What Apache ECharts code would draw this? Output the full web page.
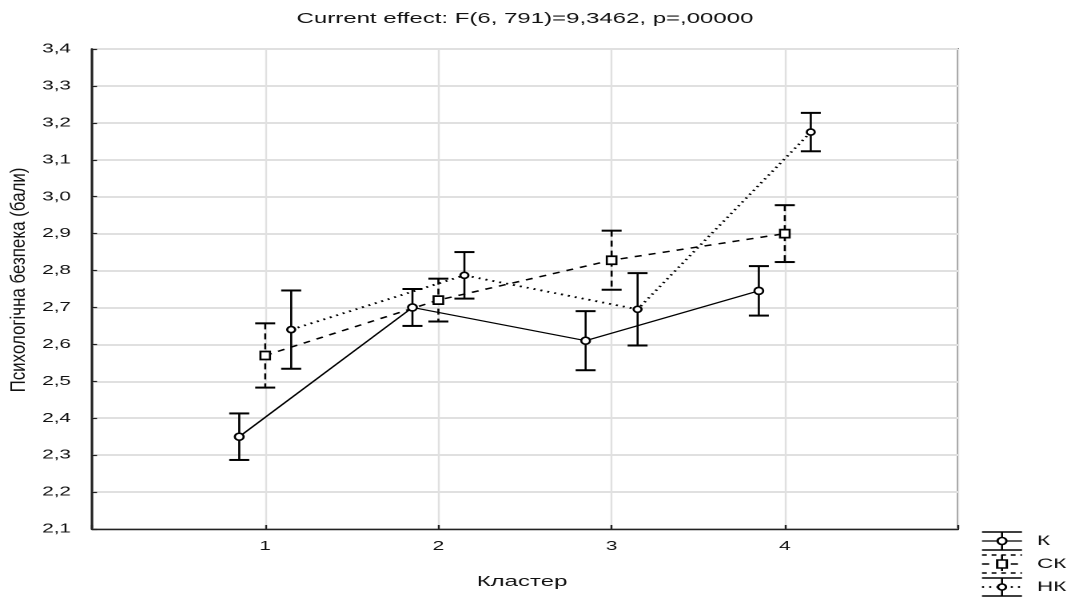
<!DOCTYPE html>
<html>
<head>
<meta charset="utf-8">
<title>Психологічна безпека за кластерами</title>
<script src="https://cdn.jsdelivr.net/npm/echarts/dist/echarts.min.js"></script>
<style>
  html, body { margin: 0; padding: 0; background: #fff; overflow: hidden; }
  #wrap { width: 1071px; height: 597px; overflow: hidden; }
  /* the plot is drawn narrow and widened horizontally, giving the wide-set lettering */
  #chart { width: 670px; height: 597px; transform: scaleX(1.5985); transform-origin: 0 0; }
</style>
</head>
<body>
<div id="wrap"><div id="chart"></div></div>
<script>
// Cluster numbers on the x axis
const clusters = [1, 2, 3, 4];

// Group means and half-widths of the confidence intervals
const kName = 'К';
const kMean = [2.350, 2.700, 2.610, 2.745];
const kErr  = [0.063, 0.050, 0.080, 0.067];

const ckName = 'СК';
const ckMean = [2.570, 2.720, 2.828, 2.900];
const ckErr  = [0.087, 0.058, 0.080, 0.077];

const nkName = 'НК';
const nkMean = [2.640, 2.787, 2.695, 3.175];
const nkErr  = [0.106, 0.063, 0.098, 0.052];

const yTicksMin = 2.1, yTicksMax = 3.4, yStep = 0.1;

const titleText = 'Current effect: F(6, 791)=9,3462, p=,00000';
const xName = 'Кластер';
const yName = 'Психологічна безпека (бали)';

// horizontal stretch applied through CSS; screen x -> canvas x
const S = 1071 / 670;
const sx = v => v / S;
const FONT = '"Liberation Sans", Arial, sans-serif';
const INK = '#000';

const groups = [
  { name: kName,  mean: kMean,  err: kErr,  off: -0.15, symbol: 'circle', size: [5.5, 7],
    line: { width: 1.2, type: 'solid' }, barDash: null },
  { name: ckName, mean: ckMean, err: ckErr, off: 0,     symbol: 'rect',   size: [6, 8],
    line: { width: 1.5, type: [4.5, 4.5] }, barDash: [6, 4] },
  { name: nkName, mean: nkMean, err: nkErr, off: 0.15,  symbol: 'circle', size: [5, 6],
    line: { width: 1.8, type: [1.3, 3.2] }, barDash: null }
];

function errorBars(barDash) {
  const hw = sx(10);
  return function (params, api) {
    const x = api.value(0);
    const top = api.coord([x, api.value(2)]);
    const bot = api.coord([x, api.value(1)]);
    return {
      type: 'group',
      children: [
        { type: 'line', shape: { x1: top[0], y1: top[1], x2: bot[0], y2: bot[1] },
          style: { stroke: INK, lineWidth: 1.3, lineDash: barDash || null } },
        { type: 'line', shape: { x1: top[0] - hw, y1: top[1], x2: top[0] + hw, y2: top[1] },
          style: { stroke: INK, lineWidth: 2 } },
        { type: 'line', shape: { x1: bot[0] - hw, y1: bot[1], x2: bot[0] + hw, y2: bot[1] },
          style: { stroke: INK, lineWidth: 2 } }
      ]
    };
  };
}

const series = [];
groups.forEach(g => {
  series.push({
    type: 'custom',
    name: g.name + ' CI',
    renderItem: errorBars(g.barDash),
    encode: { x: 0, y: [1, 2] },
    data: clusters.map((c, i) => [c + g.off, g.mean[i] - g.err[i], g.mean[i] + g.err[i]]),
    z: 2,
    silent: true
  });
  series.push({
    type: 'line',
    name: g.name,
    data: clusters.map((c, i) => [c + g.off, g.mean[i]]),
    symbol: g.symbol,
    symbolSize: g.size,
    showSymbol: true,
    lineStyle: { color: INK, width: g.line.width, type: g.line.type },
    itemStyle: { color: '#fff', borderColor: INK, borderWidth: 1.5 },
    z: 3
  });
});

// legend: small error-bar glyphs with the series line style
const legendY = [541, 564, 587];
const lgX = sx(1002), lgHW = sx(20);
const legendGraphics = [];
groups.forEach((g, i) => {
  const cy = legendY[i];
  const dash = Array.isArray(g.line.type) ? g.line.type : null;
  legendGraphics.push(
    { type: 'line', shape: { x1: lgX - lgHW, y1: cy - 9, x2: lgX + lgHW, y2: cy - 9 },
      style: { stroke: INK, lineWidth: 1.5, lineDash: i === 1 ? [3, 3] : null } },
    { type: 'line', shape: { x1: lgX - lgHW, y1: cy + 9, x2: lgX + lgHW, y2: cy + 9 },
      style: { stroke: INK, lineWidth: 1.5, lineDash: i === 1 ? [3, 3] : null } },
    { type: 'line', shape: { x1: lgX, y1: cy - 9, x2: lgX, y2: cy + 9 },
      style: { stroke: INK, lineWidth: 1.3, lineDash: g.barDash } },
    { type: 'line', shape: { x1: lgX - lgHW, y1: cy, x2: lgX + lgHW, y2: cy },
      style: { stroke: INK, lineWidth: g.line.width, lineDash: dash } },
    g.symbol === 'rect'
      ? { type: 'rect', shape: { x: lgX - 3, y: cy - 4, width: 6, height: 8 },
          style: { fill: '#fff', stroke: INK, lineWidth: 1.5 } }
      : { type: 'ellipse', shape: { cx: lgX, cy: cy, rx: g.size[0] / 2, ry: g.size[1] / 2 },
          style: { fill: '#fff', stroke: INK, lineWidth: 1.5 } },
    { type: 'text', x: sx(1037), y: cy,
      style: { text: g.name, font: '14px ' + FONT, fill: '#111', textVerticalAlign: 'middle', textAlign: 'left' } }
  );
});

const option = {
  animation: false,
  backgroundColor: '#fff',
  grid: { left: sx(92), right: sx(113), top: 49, bottom: 68, show: true,
          borderColor: '#222', borderWidth: 1.3, backgroundColor: 'transparent' },
  xAxis: {
    type: 'value', min: 0, max: 5, interval: 1,
    axisLine: { show: true, onZero: false, lineStyle: { color: '#222', width: 1.4 } },
    axisTick: { show: true, inside: true, length: 4, lineStyle: { color: '#222', width: 1.2 } },
    axisLabel: { margin: 11, color: '#111', fontSize: 13, fontFamily: FONT,
      formatter: v => (clusters.indexOf(v) >= 0 ? String(v) : '') },
    splitLine: { show: true, lineStyle: { color: '#e0e0e0', width: 1.2 } }
  },
  yAxis: {
    type: 'value', min: yTicksMin, max: yTicksMax, interval: yStep,
    axisLine: { show: true, lineStyle: { color: '#222', width: 1.4 } },
    axisTick: { show: true, inside: true, length: sx(5), lineStyle: { color: '#222', width: 1.2 } },
    axisLabel: { margin: sx(21), color: '#111', fontSize: 13, fontFamily: FONT,
      formatter: v => v.toFixed(1).replace('.', ',') },
    splitLine: { show: true, lineStyle: { color: '#e0e0e0', width: 2 } }
  },
  graphic: [
    { type: 'text', x: sx(525), y: 19,
      style: { text: titleText, font: '15px ' + FONT, fill: '#111', textAlign: 'center', textVerticalAlign: 'middle' } },
    { type: 'text', x: sx(522), y: 582,
      style: { text: xName, font: '15px ' + FONT, fill: '#111', textAlign: 'center', textVerticalAlign: 'middle' } },
    { type: 'text', x: sx(19), y: 280, rotation: Math.PI / 2, scaleX: 1.3,
      style: { text: yName, font: '13px ' + FONT, fill: '#111', textAlign: 'center', textVerticalAlign: 'middle' } }
  ].concat(legendGraphics),
  series: series
};

const chart = echarts.init(document.getElementById('chart'), null, { devicePixelRatio: 2 });
chart.setOption(option);
</script>
</body>
</html>
